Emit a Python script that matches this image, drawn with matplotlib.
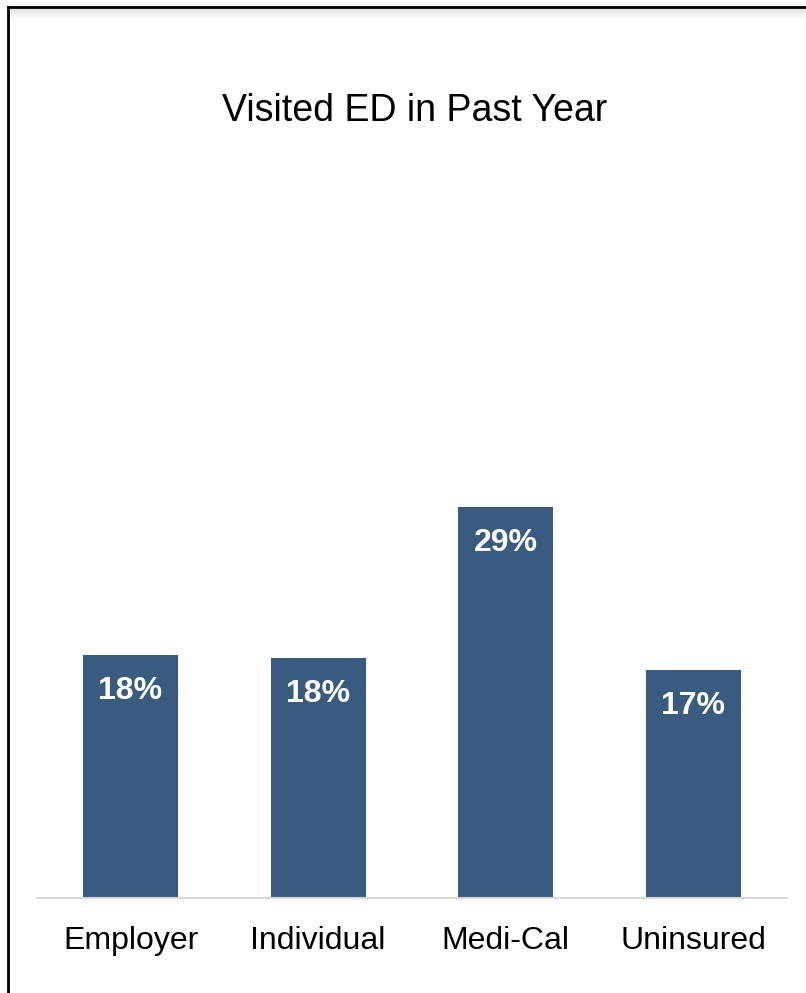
import numpy as np
import matplotlib.pyplot as plt
from matplotlib.lines import Line2D

plt.rcParams['font.family'] = ['Liberation Sans', 'DejaVu Sans']

categories = ['Employer', 'Individual', 'Medi-Cal', 'Uninsured']
values = [18.0, 17.8, 29.0, 16.9]
title = 'Visited ED in Past Year'

fig = plt.figure(figsize=(8.06, 9.93), dpi=100)
W, H = 806, 993

# axes placed in pixel coords
left, right, bottom, top = 36.7, 787.3, 898, 150
ax = fig.add_axes([left / W, (H - bottom) / H, (right - left) / W, (bottom - top) / H])

x = np.arange(len(categories))
bars = ax.bar(x, values, width=0.506, color='#3A5B80')

ax.set_xlim(-0.5, 3.5)
ax.set_ylim(0, (bottom - top) / 13.48)

for b, v in zip(bars, values):
    ax.text(b.get_x() + b.get_width() / 2, v - 2.65, f'{v:.0f}%', ha='center', va='center',
            color='white', fontsize=23, fontweight='bold')

for s in ['top', 'right', 'left']:
    ax.spines[s].set_visible(False)
ax.spines['bottom'].set_color('#D9D9D9')
ax.spines['bottom'].set_linewidth(1.5)
ax.set_yticks([])
ax.set_xticks(x)
ax.set_xticklabels(categories, fontsize=23)
ax.tick_params(axis='x', length=0, pad=20)

fig.text(415 / W, (H - 111) / H, title, ha='center', va='center', fontsize=27)

# frame border (top and left) with a soft shadow under the top line
for i, c in enumerate(['#E6E6E6', '#EBEBEB', '#F0F0F0', '#F5F5F5', '#FAFAFA']):
    y = (H - 10 - i * 2) / H
    fig.add_artist(Line2D([10 / W, 1], [y, y], color=c, lw=1.5))
fig.add_artist(Line2D([8 / W, 1], [(H - 7) / H, (H - 7) / H], color='black', lw=2))
fig.add_artist(Line2D([8 / W, 8 / W], [0, (H - 7) / H], color='black', lw=2))

fig.savefig('out.png', dpi=100)
